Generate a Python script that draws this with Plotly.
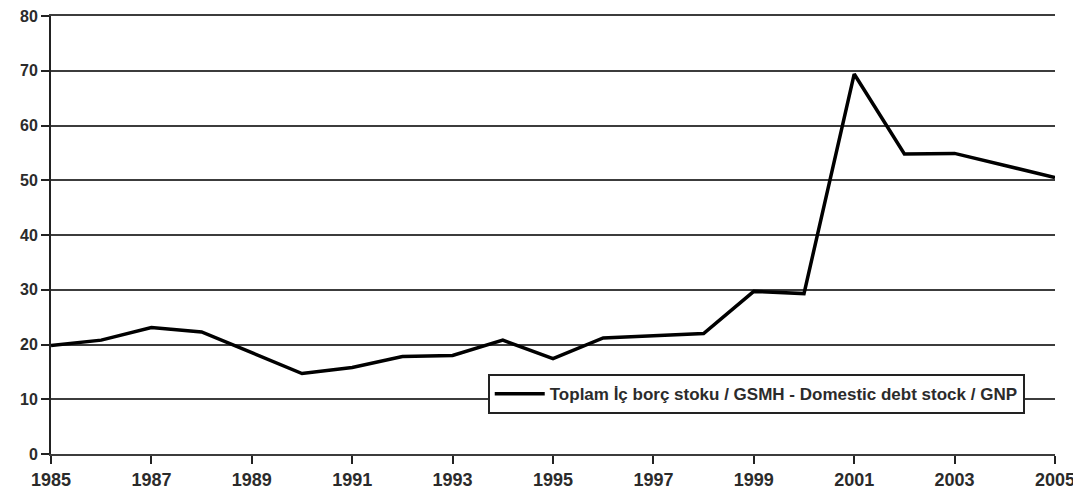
import plotly.graph_objects as go

# Domestic debt stock / GNP (%), 1985-2005
years = list(range(1985, 2006))
debt_ratio = [19.8, 20.8, 23.1, 22.3, 18.5, 14.7, 15.8, 17.8, 18.0, 20.8, 17.4,
              21.2, 21.6, 22.0, 29.7, 29.3, 69.4, 54.8, 54.9, 52.7, 50.5]
series_name = 'Toplam İç borç stoku / GSMH - Domestic debt stock / GNP'
x_ticks = list(range(1985, 2006, 2))
y_ticks = list(range(0, 81, 10))

font_family = 'Liberation Sans, Arial, sans-serif'
text_color = '#2b2b2b'
grid_color = '#3c3c3c'

fig = go.Figure()

fig.add_trace(go.Scatter(
    x = years,
    y = debt_ratio,
    mode = 'lines',
    name = series_name,
    line = dict(color = 'black', width = 3.5),
    showlegend = True
))

# page body adds an 8px margin, so the figure is sized/offset to compensate
fig.update_layout(
    width = 1073,
    height = 487,
    margin = dict(l = 43, r = 26, t = 8, b = 41, autoexpand = False),
    plot_bgcolor = 'white',
    paper_bgcolor = 'white',
    font = dict(family = font_family, color = text_color),
    xaxis = dict(
        range = [1985, 2005],
        tickvals = x_ticks,
        ticktext = [str(v) for v in x_ticks],
        ticks = 'outside',
        ticklen = 8,
        tickwidth = 2,
        tickcolor = '#222',
        showgrid = False,
        zeroline = False,
        # mirrored line gives the top (80) gridline, which plotly drops at the range end
        showline = True,
        mirror = True,
        linecolor = grid_color,
        linewidth = 2,
        automargin = False,
        ticklabeloverflow = 'allow',
        tickfont = dict(size = 18, family = font_family, color = text_color, weight = 'bold'),
        fixedrange = True
    ),
    xaxis2 = dict(
        range = [1985, 2005],
        overlaying = 'x',
        anchor = 'y',
        tickvals = x_ticks,
        ticks = 'inside',
        ticklen = 9,
        tickwidth = 2,
        tickcolor = '#222',
        showticklabels = False,
        showgrid = False,
        zeroline = False,
        showline = False,
        automargin = False
    ),
    yaxis = dict(
        range = [0, 80],
        tickvals = y_ticks,
        ticks = 'outside',
        ticklen = 8,
        tickwidth = 2,
        tickcolor = '#222',
        showgrid = True,
        gridcolor = grid_color,
        gridwidth = 2,
        zeroline = True,
        zerolinecolor = '#222',
        zerolinewidth = 2,
        showline = True,
        linecolor = '#222',
        linewidth = 2,
        automargin = False,
        ticklabeloverflow = 'allow',
        tickfont = dict(size = 16, family = font_family, color = text_color, weight = 'bold'),
        fixedrange = True
    ),
    legend = dict(
        x = 0.435,
        y = 0.182,
        xanchor = 'left',
        yanchor = 'top',
        bgcolor = 'white',
        bordercolor = '#222',
        borderwidth = 2,
        font = dict(size = 17, family = font_family, color = text_color, weight = 'bold'),
        itemwidth = 50
    )
)

fig.write_html('out.html')
